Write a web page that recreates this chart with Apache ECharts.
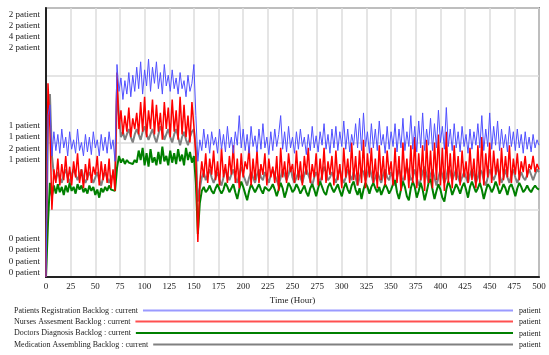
<!DOCTYPE html>
<html>
<head>
<meta charset="utf-8">
<script src="https://cdn.jsdelivr.net/npm/echarts@6/dist/echarts.min.js"></script>
<style>html,body{margin:0;padding:0;background:#fff}#c{width:549px;height:355px}</style>
</head>
<body>
<div id="c"></div>
<script>
// ---- data ----
const timeStep = 2; // hours between samples, t = 0..500
const seriesNames = [
  'Patients Registration Backlog : current',
  'Nurses Assesment Backlog : current',
  'Doctors Diagnosis Backlog : current',
  'Medication Assembling Backlog : current'
];
const unitLabel = 'patient';
const axisMax = [2, 2, 4, 2];
const xTicks = [0, 500, 25];

const registration = [
  0, 1.20, 1.28, 0.90, 1.08, 0.94, 1.06, 0.92, 1.10, 0.96,
  1.04, 0.90, 1.08, 0.95, 1.02, 0.92, 1.10, 0.94, 1.00, 0.90,
  1.06, 0.93, 1.04, 0.91, 1.08, 0.96, 1.02, 0.90, 1.06, 0.94,
  1.04, 0.92, 1.08, 0.95, 1.02, 0.86,
  1.58,
  1.38, 1.48, 1.32, 1.46, 1.36, 1.52, 1.34, 1.50, 1.38,
  1.56, 1.40, 1.60, 1.36, 1.54, 1.42, 1.62, 1.38, 1.56, 1.44,
  1.60, 1.40, 1.52, 1.36, 1.58, 1.42, 1.50, 1.38, 1.54, 1.40,
  1.48, 1.36, 1.52, 1.40, 1.46, 1.34, 1.50, 1.38, 1.44, 1.58,
  1.20,
  0.86,
  1.02, 0.94, 1.10, 0.96, 1.06, 0.92, 1.08, 0.98,
  1.04, 0.92, 1.10, 0.95, 1.06, 0.93, 1.12, 0.96, 1.04, 0.92,
  1.08, 0.98, 1.20, 0.96, 1.10, 0.94, 1.06, 0.92, 1.12, 0.97,
  1.05, 0.93, 1.10, 0.95, 1.14, 0.96, 1.04, 0.91, 1.08, 0.94,
  1.10, 0.97, 1.06, 1.20, 0.95, 1.08, 0.93, 1.12, 0.96, 1.04,
  0.92, 1.08, 0.95, 1.10, 0.97, 1.04, 0.91, 1.06, 0.94, 1.12,
  0.96, 1.05, 0.93, 1.08, 0.98, 1.14, 0.95, 1.06, 0.92, 1.10,
  0.96, 1.12, 0.94, 1.08, 0.97, 1.16, 0.95, 1.10, 0.93, 1.06,
  0.98, 1.14, 0.96, 1.18, 0.94, 1.22, 0.97, 1.08, 0.92, 1.14,
  0.96, 1.10, 0.94, 1.16, 0.98, 1.06, 0.92, 1.12, 0.95, 1.08,
  0.97, 1.14, 0.93, 1.10, 0.96, 1.18, 0.94, 1.08, 0.97, 1.20,
  0.95, 1.12, 0.93, 1.16, 0.96, 1.22, 0.94, 1.10, 0.98, 1.18,
  0.94, 1.14, 0.96, 1.24, 1.00, 1.12, 0.95, 1.26, 0.97, 1.10,
  0.94, 1.14, 0.96, 1.08, 0.93, 1.12, 0.97, 1.06, 0.92, 1.10,
  0.95, 1.08, 0.98, 1.14, 0.96, 1.20, 0.94, 1.10, 0.97, 1.22,
  0.95, 1.12, 0.98, 1.16, 0.94, 1.10, 0.96, 1.06, 0.93, 1.12,
  0.97, 1.08, 0.94, 1.10, 0.96, 1.06, 0.92, 1.08, 0.95, 1.04,
  0.93, 1.06, 0.96, 1.02, 0.98
];
const nurses = [
  0, 1.44, 1.10, 0.50, 0.80, 0.70, 0.88, 0.68, 0.84, 0.72,
  0.90, 0.70, 0.82, 0.68, 0.86, 0.74, 0.92, 0.70, 0.80, 0.66,
  0.84, 0.72, 0.88, 0.70, 0.82, 0.76, 0.90, 0.68, 0.86, 0.72,
  0.84, 0.70, 0.88, 0.66, 0.80, 0.64,
  1.52,
  1.10, 1.24, 1.06, 1.20, 1.08, 1.26, 1.04, 1.18, 1.10,
  1.22, 1.06, 1.30, 1.08, 1.34, 1.04, 1.24, 1.10, 1.32, 1.06,
  1.28, 1.08, 1.22, 1.02, 1.30, 1.10, 1.26, 1.04, 1.32, 1.08,
  1.24, 1.02, 1.34, 1.06, 1.28, 1.04, 1.20, 1.00, 1.30, 1.12,
  0.90,
  0.26,
  0.70, 0.86, 0.74, 0.92, 0.70, 0.88, 0.76, 0.94,
  0.72, 0.86, 0.68, 0.96, 0.74, 0.84, 0.70, 0.90, 0.76, 0.98,
  0.70, 0.88, 0.66, 0.92, 0.74, 0.86, 0.80, 0.96, 0.68, 0.88,
  0.72, 0.94, 0.70, 0.84, 0.76, 0.92, 0.68, 0.88, 0.74, 0.82,
  0.70, 0.90, 0.64, 0.96, 0.74, 0.86, 0.70, 0.92, 0.78, 0.84,
  0.70, 0.94, 0.72, 0.86, 0.68, 0.90, 0.76, 0.96, 0.70, 0.84,
  0.74, 0.92, 0.68, 0.88, 0.72, 0.96, 0.70, 0.86, 0.76, 0.90,
  0.68, 0.94, 0.72, 0.84, 0.66, 0.96, 0.74, 0.88, 0.70, 1.00,
  0.72, 0.90, 0.68, 0.94, 0.70, 1.02, 0.66, 0.92, 0.74, 0.96,
  0.70, 0.88, 0.66, 0.98, 0.72, 0.90, 0.68, 0.94, 0.76, 0.86,
  0.68, 0.96, 0.70, 0.90, 0.64, 1.00, 0.72, 0.88, 0.66, 0.98,
  0.70, 1.04, 0.66, 0.92, 0.72, 0.98, 0.64, 1.02, 0.70, 0.94,
  0.66, 1.00, 0.72, 1.06, 0.68, 0.96, 0.64, 1.08, 0.70, 0.92,
  0.66, 0.98, 0.72, 0.90, 0.68, 0.94, 0.74, 0.86, 0.70, 0.96,
  0.72, 0.88, 0.66, 0.98, 0.70, 1.04, 0.68, 0.92, 0.74, 1.00,
  0.70, 0.94, 0.76, 0.88, 0.68, 0.96, 0.72, 0.90, 0.74, 0.98,
  0.70, 0.88, 0.76, 0.92, 0.72, 0.86, 0.78, 0.90, 0.74, 0.84,
  0.80, 0.90, 0.78, 0.84, 0.80
];
const doctors = [
  0, 0.80, 1.40, 1.20, 1.36, 1.24, 1.38, 1.26, 1.34, 1.22,
  1.36, 1.26, 1.40, 1.28, 1.34, 1.24, 1.38, 1.30, 1.36, 1.26,
  1.32, 1.24, 1.36, 1.28, 1.34, 1.22, 1.30, 1.18, 1.32, 1.26,
  1.34, 1.28, 1.36, 1.30, 1.32, 1.28,
  1.62,
  1.80, 1.70, 1.76, 1.68, 1.74, 1.70, 1.72, 1.68, 1.74,
  1.70, 1.88, 1.74, 1.92, 1.66, 1.84, 1.64, 1.90, 1.70, 1.78,
  1.66, 1.86, 1.68, 1.94, 1.72, 1.80, 1.66, 1.88, 1.70, 1.84,
  1.68, 1.90, 1.72, 1.82, 1.66, 1.92, 1.74, 1.86, 1.70, 1.80,
  1.40,
  0.64,
  1.10, 1.28, 1.34, 1.26, 1.30, 1.36, 1.28, 1.24,
  1.32, 1.38, 1.30, 1.24, 1.30, 1.40, 1.34, 1.26, 1.32, 1.38,
  1.26, 1.16, 1.30, 1.42, 1.34, 1.24, 1.14, 1.28, 1.38, 1.32,
  1.26, 1.32, 1.38, 1.30, 1.24, 1.34, 1.36, 1.28, 1.32, 1.38,
  1.30, 1.20, 1.30, 1.40, 1.32, 1.18, 1.28, 1.40, 1.34, 1.26,
  1.30, 1.38, 1.32, 1.24, 1.30, 1.36, 1.26, 1.20, 1.32, 1.38,
  1.30, 1.20, 1.32, 1.42, 1.34, 1.26, 1.22, 1.34, 1.40, 1.32,
  1.26, 1.32, 1.38, 1.28, 1.20, 1.32, 1.40, 1.30, 1.24, 1.36,
  1.42, 1.30, 1.22, 1.32, 1.16, 1.30, 1.40, 1.34, 1.24, 1.34,
  1.40, 1.32, 1.26, 1.34, 1.22, 1.30, 1.38, 1.32, 1.24, 1.30,
  1.38, 1.44, 1.26, 1.16, 1.30, 1.42, 1.34, 1.20, 1.14, 1.32,
  1.42, 1.34, 1.18, 1.28, 1.40, 1.30, 1.14, 1.26, 1.40, 1.46,
  1.30, 1.16, 1.28, 1.38, 1.30, 1.18, 1.12, 1.30, 1.42, 1.34,
  1.22, 1.30, 1.38, 1.32, 1.24, 1.34, 1.40, 1.30, 1.18, 1.34,
  1.42, 1.34, 1.26, 1.32, 1.40, 1.30, 1.16, 1.28, 1.38, 1.34,
  1.26, 1.32, 1.42, 1.34, 1.24, 1.30, 1.38, 1.32, 1.22, 1.34,
  1.38, 1.30, 1.20, 1.32, 1.40, 1.34, 1.26, 1.30, 1.36, 1.30,
  1.26, 1.32, 1.36, 1.32, 1.30
];
const medication = [
  0, 1.10, 1.36, 0.90, 0.76, 0.72, 0.78, 0.74, 0.70, 0.76,
  0.80, 0.74, 0.70, 0.76, 0.80, 0.76, 0.72, 0.76, 0.80, 0.74,
  0.70, 0.74, 0.78, 0.74, 0.70, 0.74, 0.78, 0.72, 0.68, 0.74,
  0.78, 0.74, 0.70, 0.74, 0.76, 0.72,
  1.40,
  1.20, 1.04, 1.08, 1.02, 1.06, 1.10, 1.04, 1.00, 1.06,
  1.10, 1.06, 1.02, 1.08, 1.12, 1.06, 1.02, 1.06, 1.10, 1.04,
  1.00, 1.06, 1.12, 1.08, 1.02, 1.06, 1.10, 1.04, 1.00, 1.06,
  1.10, 1.04, 0.98, 1.04, 1.08, 1.02, 0.98, 1.04, 1.08, 1.10,
  0.96,
  0.56,
  0.66, 0.74, 0.78, 0.72, 0.76, 0.80, 0.74, 0.70,
  0.74, 0.78, 0.72, 0.68, 0.74, 0.80, 0.76, 0.72, 0.76, 0.80,
  0.74, 0.70, 0.76, 0.82, 0.76, 0.72, 0.68, 0.74, 0.78, 0.74,
  0.70, 0.76, 0.80, 0.74, 0.72, 0.78, 0.74, 0.70, 0.76, 0.80,
  0.76, 0.72, 0.68, 0.74, 0.80, 0.76, 0.72, 0.76, 0.82, 0.74,
  0.70, 0.74, 0.78, 0.74, 0.70, 0.76, 0.80, 0.76, 0.72, 0.68,
  0.74, 0.78, 0.74, 0.70, 0.76, 0.82, 0.78, 0.72, 0.74, 0.78,
  0.74, 0.70, 0.76, 0.80, 0.74, 0.70, 0.74, 0.80, 0.76, 0.72,
  0.78, 0.74, 0.68, 0.74, 0.80, 0.78, 0.72, 0.76, 0.82, 0.76,
  0.70, 0.74, 0.78, 0.74, 0.70, 0.76, 0.80, 0.74, 0.72, 0.78,
  0.74, 0.68, 0.74, 0.80, 0.76, 0.70, 0.76, 0.82, 0.78, 0.72,
  0.74, 0.80, 0.74, 0.68, 0.72, 0.78, 0.82, 0.76, 0.70, 0.76,
  0.80, 0.74, 0.68, 0.74, 0.80, 0.76, 0.70, 0.74, 0.82, 0.78,
  0.72, 0.76, 0.80, 0.74, 0.70, 0.74, 0.78, 0.74, 0.70, 0.76,
  0.80, 0.76, 0.70, 0.74, 0.80, 0.78, 0.72, 0.68, 0.74, 0.80,
  0.76, 0.72, 0.76, 0.82, 0.76, 0.70, 0.74, 0.80, 0.74, 0.70,
  0.76, 0.80, 0.74, 0.70, 0.74, 0.78, 0.74, 0.72, 0.76, 0.80,
  0.76, 0.72, 0.76, 0.80, 0.78
];

// ---- styling ----
const FONT = '"Liberation Serif", "Times New Roman", serif';
const lineColors = ['#5050ff', '#ff0000', '#008000', '#808080'];
const legendColors = ['#9a9aff', '#ff5050', '#008000', '#808080'];
const lineWidths = [1, 1.5, 2, 2];
// vertical label offsets (px) for top / middle / bottom tick groups
const offTop = [7, 18, 29, 40];
const offMid = [-17, -6, 6, 17];
const offBot = [-38, -27, -15, -4];

function rs(off) {
  const p = Math.abs(off) * 2;
  return { fontFamily: FONT, fontSize: 9, color: '#222',
    padding: off >= 0 ? [p, 0, 0, 0] : [0, 0, p, 0] };
}

const allData = [registration, nurses, doctors, medication];
const toPairs = arr => arr.map((v, i) => [i * timeStep, v]);

const yAxes = axisMax.map((M, i) => ({
  type: 'value', min: 0, max: M, interval: M / 4, position: 'left', offset: 0,
  axisLine: { show: i === 0, lineStyle: { color: '#222', width: 2 } },
  axisTick: { show: false },
  splitLine: { show: i === 0, lineStyle: { color: '#dcdcdc', width: 1.5 } },
  axisLabel: {
    show: true, margin: 6, showMinLabel: true, showMaxLabel: true,
    formatter: v => {
      if (v === M) return '{t|' + Math.round(v) + ' ' + unitLabel + '}';
      if (v === M / 2) return '{m|' + Math.round(v) + ' ' + unitLabel + '}';
      if (v === 0) return '{b|' + Math.round(v) + ' ' + unitLabel + '}';
      return '';
    },
    rich: { t: rs(offTop[i]), m: rs(offMid[i]), b: rs(offBot[i]) }
  }
}));

// legend geometry
const legendFontSize = 8;
const legendRowsY = [312, 323, 334.5, 346];
const legendLineEnd = 513;
const cvs = document.createElement('canvas').getContext('2d');
cvs.font = legendFontSize + 'px ' + FONT;
const legends = seriesNames.map((n, i) => {
  const w = cvs.measureText(n).width;
  return {
    data: [{ name: n, itemStyle: { color: legendColors[i] } }],
    left: 14, top: legendRowsY[i] - 5.5, orient: 'horizontal', align: 'right',
    icon: 'rect', itemHeight: 2, itemWidth: Math.max(10, legendLineEnd - 14 - w - 5),
    itemGap: 0, padding: 0, selectedMode: false,
    textStyle: { fontFamily: FONT, fontSize: legendFontSize, color: '#222' }
  };
});

// drawing order: gray at the bottom, blue on top
const drawOrder = [3, 2, 1, 0];
const series = drawOrder.map((i, k) => ({
  name: seriesNames[i], type: 'line', yAxisIndex: i,
  data: toPairs(allData[i]), showSymbol: false, symbol: 'none',
  lineStyle: { color: lineColors[i], width: lineWidths[i] },
  itemStyle: { color: lineColors[i] }, animation: false, z: 2 + k
}));

const chart = echarts.init(document.getElementById('c'), null, { renderer: 'canvas' });
chart.setOption({
  backgroundColor: '#fff',
  animation: false,
  grid: { left: 46, right: 10, top: 8, bottom: 78, show: true, borderColor: '#333', borderWidth: 1.5, backgroundColor: '#fff' },
  xAxis: {
    type: 'value', min: xTicks[0], max: xTicks[1], interval: xTicks[2],
    name: 'Time (Hour)', nameLocation: 'middle', nameGap: 17,
    nameTextStyle: { fontFamily: FONT, fontSize: 9, color: '#222' },
    axisLine: { lineStyle: { color: '#222', width: 2 } },
    axisTick: { show: false },
    splitLine: { show: true, lineStyle: { color: '#dcdcdc', width: 1.5 } },
    axisLabel: { fontFamily: FONT, fontSize: 9, color: '#222', margin: 5, showMinLabel: true, showMaxLabel: true }
  },
  yAxis: yAxes,
  legend: legends,
  graphic: legendRowsY.map(y => ({
    type: 'text', left: 519, top: y - 5,
    style: { text: unitLabel, font: legendFontSize + 'px ' + FONT, fill: '#222' }
  })),
  series: series
});
</script>
</body>
</html>
